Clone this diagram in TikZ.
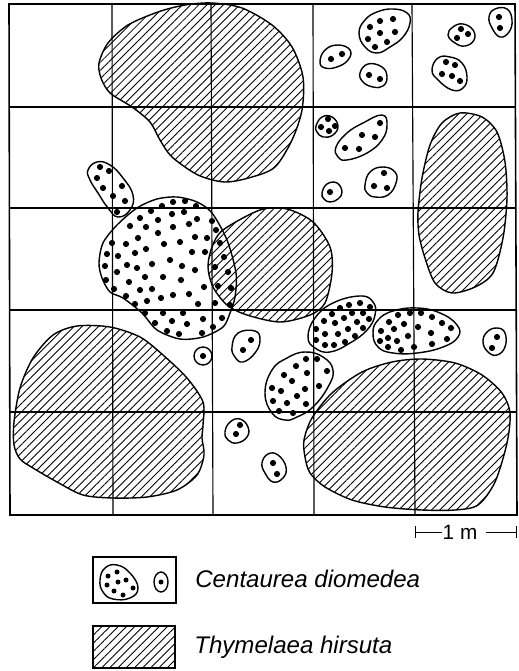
\documentclass[tikz,border=0pt]{standalone}
\usepackage{fontspec}
\setmainfont{Liberation Sans}
\usetikzlibrary{patterns.meta,arrows.meta}
\tikzset{
  hatched/.style={draw,line width=0.8pt,pattern={Lines[angle=45,distance=3.3pt,line width=0.5pt]}},
  patch/.style={draw,line width=0.8pt},
  blob/.style={smooth cycle,tension=0.75},
  gridline/.style={line width=0.65pt},
  legendtext/.style={font=\fontsize{13.7}{16}\selectfont\itshape,anchor=west,inner sep=0pt}
}
\newcommand{\seeds}[2][3.1]{\foreach \px/\py in {#2} \fill (\px,\py) circle (#1);}
\begin{document}
\begin{tikzpicture}[x=0.02cm,y=-0.02cm]
    \useasboundingbox (0,0) rectangle (518,671);

    % Draw the grid
    \foreach \gt/\gb in {112/113,211/213,313/314,412/415} \draw[gridline] (\gt,4) -- (\gb,515);
    \foreach \gy in {107,208,310,412} \draw[gridline] (9,\gy) -- (516,\gy);
    \draw[line width=0.9pt] (9,4) -- (515,4) -- (517,515) -- (10,515) -- cycle;

    % Draw the hatched patches
    \draw[hatched] plot[smooth cycle] coordinates {(99,63) (108,43) (128,25) (158,12) (185,5) (212,3) (242,8) (272,25) (292,47) (303,77) (302,110) (292,140) (275,167) (252,177) (225,182) (198,175) (172,157) (160,140) (150,122) (132,107) (110,93) (101,78)};
    \draw[hatched] plot[smooth cycle] coordinates {(418,212) (422,178) (430,145) (442,123) (460,113) (482,117) (497,132) (505,162) (507,198) (503,238) (493,273) (475,287) (452,293) (435,283) (425,258) (419,235)};
    \draw[hatched] plot[smooth cycle] coordinates {(223,230) (260,210) (287,209) (313,222) (330,247) (332,273) (325,303) (310,315) (280,322) (247,315) (227,305) (213,287) (208,267) (212,247)};
    \draw[hatched] plot[smooth cycle] coordinates {(304,440) (312,418) (332,393) (362,372) (392,362) (422,359) (455,363) (482,375) (502,393) (510,413) (507,443) (495,482) (478,505) (455,510) (422,510) (385,507) (352,500) (325,487) (310,473) (305,457)};
    \draw[hatched] plot[smooth cycle] coordinates {(14,445) (14,422) (20,388) (33,358) (53,335) (77,326) (110,327) (140,337) (163,355) (187,378) (203,402) (203,425) (202,438) (204,455) (197,475) (177,490) (147,497) (113,498) (83,495) (57,482) (33,468) (20,459)};

    % Draw the large dotted patch
    \draw[patch] plot[smooth cycle] coordinates {(212,213) (227,240) (236,273) (235,297) (230,313) (223,327) (203,337) (180,339) (157,330) (142,313) (123,298) (110,292) (102,278) (99,263) (103,243) (117,225) (137,208) (157,199) (177,197) (197,202)};
    \seeds{162/206,173/202,185/201,196/206,151/211,172/214,184/212,140/218,158/220,197/219,212/221,130/226,146/227,173/227,189/224,216/230,158/233,138/238,195/237,207/238,220/243,112/243,126/244,164/244,180/242,146/249,135/253,192/252,205/252,107/254,118/256,224/257,170/260,152/264,127/265,182/266,105/266,137/268,215/267,195/270,228/272,117/272,106/280,145/277,163/277,181/280,129/282,218/286,204/287,231/288,114/289,140/290,152/289,126/296,189/294,173/295,161/298,147/301,135/304,215/303,198/304,230/305,145/313,163/313,183/313,222/318,203/319,155/323,172/321,187/324,213/327,167/331,179/334,202/333}

    % Draw the other dotted patches
    \draw[patch] plot[blob] coordinates {(88,170) (97,162) (110,165) (123,178) (133,195) (130,210) (118,217) (108,208) (98,193) (90,180)};
    \seeds{100/167,109/171,97/178,103/188,122/186,113/196,125/201,117/212}
    \draw[patch] plot[blob] coordinates {(359,33) (365,20) (377,12) (393,9) (407,13) (410,23) (403,37) (390,47) (377,53) (365,47)};
    \seeds{380/21,393/19,370/27,380/33,395/32,368/39,387/42,375/47}
    \draw[patch] plot[blob] coordinates {(320,62) (325,50) (338,45) (350,50) (348,60) (337,67) (325,68)};
    \seeds{331/59,342/54}
    \draw[patch] plot[blob] coordinates {(360,73) (368,64) (382,67) (387,77) (383,86) (373,87) (363,82)};
    \seeds{369/75,380/79}
    \draw[patch] plot[blob] coordinates {(448,35) (453,27) (463,24) (473,30) (474,40) (465,46) (455,43)};
    \seeds{461/29,468/34,457/38}
    \draw[patch] plot[blob] coordinates {(489,17) (495,9) (507,9) (512,20) (509,32) (500,37) (492,28)};
    \seeds{499/17,500/28}
    \draw[patch] plot[blob] coordinates {(432,70) (438,58) (450,57) (462,63) (467,77) (463,88) (452,90) (438,80)};
    \seeds{446/62,455/65,442/74,452/76,460/81}
    \draw[patch] plot[blob] coordinates {(316,126) (322,117) (332,117) (338,126) (333,135) (323,137) (317,132)};
    \seeds{328/119,335/126,321/127,329/131}
    \draw[patch] plot[blob] coordinates {(336,147) (347,133) (363,123) (382,115) (387,125) (382,140) (367,153) (347,160) (338,157)};
    \seeds{380/123,362/135,375/137,345/148,359/149}
    \draw[patch] plot[blob] coordinates {(322,193) (327,184) (337,183) (342,192) (338,199) (330,202) (324,199)};
    \seeds{330/192}
    \draw[patch] plot[blob] coordinates {(365,185) (370,172) (383,167) (395,172) (396,183) (388,195) (375,197) (367,193)};
    \seeds{384/173,374/186,387/188}
    \draw[patch] plot[blob] coordinates {(308,337) (315,318) (333,303) (360,296) (373,302) (375,315) (367,330) (350,343) (330,352) (315,348)};
    \seeds{360/303,349/305,340/308,370/307,352/313,363/313,332/314,369/319,324/321,335/323,344/318,357/322,348/329,363/328,316/329,325/334,338/334,355/336,316/340,345/342,325/345,334/345}
    \draw[patch] plot[blob] coordinates {(373,333) (378,320) (393,311) (417,308) (440,313) (457,325) (458,337) (443,347) (417,353) (393,353) (378,347)};
    \seeds{398/315,410/313,421/313,432/317,389/322,404/324,418/327,442/323,451/328,381/331,394/329,431/333,388/338,408/336,380/341,397/341,447/339,432/344,388/347,401/350,414/347}
    \draw[patch] plot[blob] coordinates {(265,393) (272,370) (287,358) (305,352) (323,357) (333,370) (328,387) (313,407) (297,417) (285,420) (272,413)};
    \seeds{306/359,317/359,296/366,327/371,307/373,284/375,292/381,319/386,272/388,281/391,305/389,297/396,273/401,287/403,306/404,279/411,293/413}
    \draw[patch] plot[blob] coordinates {(232,347) (238,333) (255,331) (260,340) (255,353) (243,362) (235,357)};
    \seeds{251/340,243/350}
    \draw[patch] (203,356) circle (9);
    \seeds{203/356}
    \draw[patch] plot[blob] coordinates {(483,342) (487,332) (497,328) (505,333) (505,347) (497,355) (488,352)};
    \seeds{497/337,492/348}
    \draw[patch] plot[blob] coordinates {(225,432) (230,422) (240,419) (248,427) (247,437) (237,443) (228,440)};
    \seeds{240/425,236/434}
    \draw[patch] plot[blob] coordinates {(262,463) (268,454) (278,455) (286,467) (283,478) (273,482) (265,473)};
    \seeds{273/463,277/474}

    % Draw the scale bar
    \coordinate (scaleleft) at (415,532);
    \coordinate (scaleright) at (517,532);
    \node[font=\fontsize{11.8}{14}\selectfont,inner sep=0pt] (scalelabel) at (460,532) {1 m};
    \draw[{Bar[width=6.8pt]}-,line width=0.55pt] (scaleleft) -- (scalelabel);
    \draw[-{Bar[width=6.8pt]},line width=0.55pt,shorten <=4.5pt] (scalelabel) -- (scaleright);

    % Draw the legend
    \draw[line width=0.8pt] (93,557) rectangle (176,603);
    \draw[patch] plot[blob] coordinates {(100,580) (105,568) (117,565) (130,573) (138,588) (130,598) (113,599) (103,592)};
    \seeds[2.5]{108/576,117/572,126/580,118/582,107/585,133/588,114/591,123/595}
    \draw[patch] (161,582) ellipse (7 and 10);
    \seeds[2.5]{161/582}
    \draw[hatched] (93,626) rectangle (175,668);
    \node[legendtext] (centaurea) at (195,579) {Centaurea diomedea};
    \node[legendtext] (thymelaea) at (194,647) {Thymelaea hirsuta};
\end{tikzpicture}
\end{document}
